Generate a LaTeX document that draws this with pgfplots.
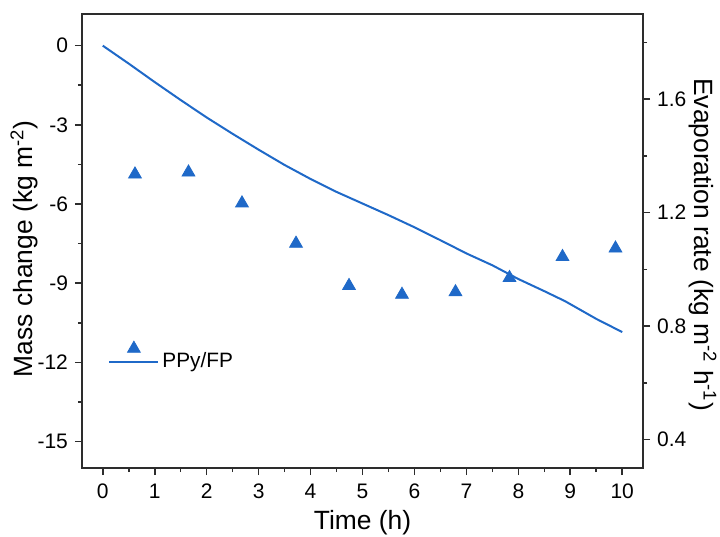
\documentclass[border=0pt]{standalone}
\usepackage{pgfplots}
\pgfplotsset{compat=1.18}
\usepackage{fontspec}
\setmainfont{Liberation Sans}
\definecolor{pblue}{RGB}{31,105,200}
\definecolor{axgray}{RGB}{45,45,45}
\pgfplotsset{
  trilegend/.style={legend image code/.code={\draw[mark repeat=2,mark phase=2,##1] plot coordinates {(0pt,0pt) (12.25pt,0pt) (24.5pt,0pt)};}},
  linelegend/.style={legend image code/.code={\draw[##1] (0pt,0pt) -- (24.5pt,0pt);}},
}
\begin{document}
\begin{tikzpicture}
\pgfplotsset{
  every axis/.append style={
    scale only axis, width=280.5pt, height=227pt,
    xmin=-0.4, xmax=10.4,
    axis line style={axgray, line width=0.9pt},
    tick style={axgray, line width=0.8pt},
    major tick length=3.5pt, minor tick length=2pt,
    tick align=outside,
    /pgf/number format/assume math mode=true,
    tick label style={font=\fontsize{10.5}{12}\selectfont},
  }
}
\begin{axis}[
  ymin=-16, ymax=1.2,
  xtick={0,1,...,10}, minor x tick num=1,
  ytick={-15,-12,-9,-6,-3,0}, minor y tick num=1,
  xtick pos=bottom, ytick pos=left,
  xticklabel style={yshift=-1pt},
  xlabel={Time (h)},
  ylabel={Mass change (kg m\textsuperscript{-2})},
  every axis x label/.style={at={(axis description cs:0.5,-0.121)}, anchor=center, font=\fontsize{13.2}{15}\selectfont},
  every axis y label/.style={at={(axis description cs:-0.1034,0.483)}, rotate=90, anchor=center, font=\fontsize{13.2}{15}\selectfont},
]
\addplot[pblue, line width=1pt] coordinates {
(0,0) (0.5,-0.68) (1,-1.38) (1.5,-2.06) (2,-2.72) (2.5,-3.34) (3,-3.94)
(3.5,-4.52) (4,-5.05) (4.5,-5.54) (5,-5.98) (5.5,-6.42) (6,-6.88)
(6.5,-7.37) (7,-7.87) (7.5,-8.32) (8,-8.84) (8.5,-9.30) (8.9,-9.68)
(9.5,-10.35) (10,-10.85)};
\coordinate (BL) at (rel axis cs:0,0);
\coordinate (TR) at (rel axis cs:1,1);
\end{axis}
\begin{axis}[
  ymin=0.3, ymax=1.9,
  axis x line=none, axis y line*=right,
  ytick={0.4,0.8,1.2,1.6}, minor ytick={0.6,1.0,1.4,1.8},
  yticklabel style={/pgf/number format/.cd, fixed, precision=1, fixed zerofill},
  ylabel={Evaporation rate (kg m\textsuperscript{-2} h\textsuperscript{-1})},
  every axis y label/.style={at={(axis description cs:1.107,0.492)}, rotate=-90, anchor=center, font=\fontsize{13.2}{15}\selectfont},
  legend style={at={(axis description cs:0,0)}, anchor=south west, xshift=10pt, yshift=45pt,
    draw=none, fill=none, row sep=-1.8pt, font=\fontsize{10.4}{12}\selectfont,
    nodes={inner sep=1.5pt}},
  legend cell align=left,
]
\addplot[only marks, mark=triangle*, mark size=3.7pt, pblue, mark options={fill=pblue, draw=pblue}, trilegend]
coordinates {
(0.62,1.335) (1.65,1.342) (2.68,1.233) (3.72,1.091) (4.74,0.942)
(5.76,0.911) (6.79,0.920) (7.83,0.970) (8.85,1.044) (9.87,1.074)};
\addlegendentry{}
\addlegendimage{pblue, line width=1pt, linelegend}
\addlegendentry{PPy/FP}
\end{axis}
\pgfresetboundingbox
\path ([xshift=-41pt,yshift=-34pt]BL) rectangle ([xshift=38.5pt,yshift=7pt]TR);
\end{tikzpicture}
\end{document}
